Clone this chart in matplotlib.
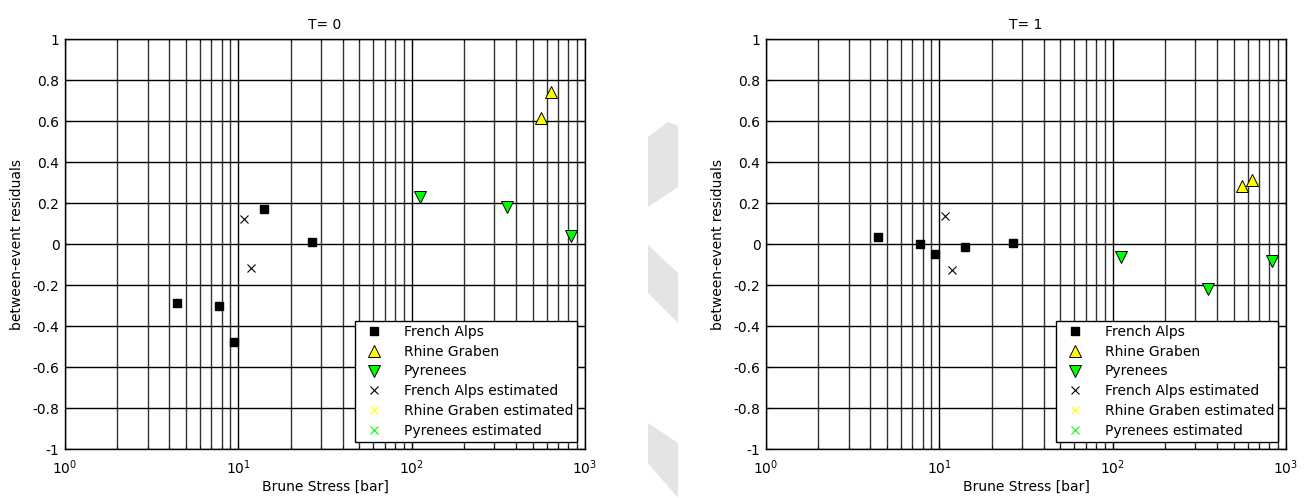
import numpy as np
import matplotlib
matplotlib.use('Agg')
import matplotlib.pyplot as plt
from matplotlib.patches import Polygon
from matplotlib.ticker import FuncFormatter

# Brune stress [bar] per event
stress_alps = [4.4, 7.7, 9.45, 14.0, 26.5]
stress_alps_est = [10.8, 11.9]
stress_rhine = [555, 637]
stress_pyr = [111, 354, 835]
stress_rhine_est = []
stress_pyr_est = []

# between-event residuals, T = 0
t0_alps = [-0.29, -0.30, -0.48, 0.17, 0.01]
t0_alps_est = [0.12, -0.115]
t0_rhine = [0.615, 0.74]
t0_pyr = [0.23, 0.18, 0.04]

# between-event residuals, T = 1
t1_alps = [0.035, 0.0, -0.047, -0.016, 0.003]
t1_alps_est = [0.137, -0.127]
t1_rhine = [0.283, 0.312]
t1_pyr = [-0.065, -0.221, -0.081]

titles = ['T= 0', 'T= 1']
panels = [(t0_alps, t0_alps_est, t0_rhine, t0_pyr),
          (t1_alps, t1_alps_est, t1_rhine, t1_pyr)]

plt.rcParams['font.family'] = ['DejaVu Sans']
plt.rcParams['font.size'] = 10

fig = plt.figure(figsize=(13.12, 4.98), dpi=100)

# light grey decoration between the two panels
W, H = 1312, 498
shapes = [
    [(648, 137), (668, 122), (678, 126), (678, 187), (648, 207)],
    [(648, 245), (678, 273), (678, 323), (648, 293)],
    [(648, 423), (678, 443), (678, 498), (648, 463)],
]
for pts in shapes:
    fig.patches.append(Polygon([(x / W, 1 - y / H) for x, y in pts], closed=True,
                               transform=fig.transFigure, facecolor='#e4e4e4',
                               edgecolor='none', zorder=0))

lefts = [65 / W, 766 / W]
yfmt = FuncFormatter(lambda v, p: '%g' % round(v, 2) if abs(v) > 1e-9 else '0')

for left, title, (alps, alps_est, rhine, pyr) in zip(lefts, titles, panels):
    ax = fig.add_axes([left, 49 / H, 520 / W, 410 / H])
    ax.set_xscale('log')
    ax.set_xlim(1, 1000)
    ax.set_ylim(-1, 1)
    ax.set_yticks(np.arange(-1, 1.01, 0.2))
    ax.yaxis.set_major_formatter(yfmt)

    ax.grid(True, which='major', color='black', linestyle='-', linewidth=1.0)
    ax.grid(True, which='minor', axis='x', color='#333333', linestyle='-', linewidth=1.0)
    ax.set_axisbelow(True)

    ax.plot(stress_alps, alps, 's', color='black', markersize=6,
            markeredgecolor='black', label='French Alps')
    ax.plot(stress_rhine, rhine, '^', color='#ffff00', markersize=9,
            markeredgecolor='black', markeredgewidth=0.7, label='Rhine Graben')
    ax.plot(stress_pyr, pyr, 'v', color='#00ff00', markersize=9,
            markeredgecolor='black', markeredgewidth=0.7, label='Pyrenees')
    ax.plot(stress_alps_est, alps_est, 'x', color='black', markersize=6,
            markeredgewidth=0.8, label='French Alps estimated')
    ax.plot(stress_rhine_est, [], 'x', color='#ffff00', markersize=6,
            markeredgewidth=0.8, label='Rhine Graben estimated')
    ax.plot(stress_pyr_est, [], 'x', color='#00ff00', markersize=6,
            markeredgewidth=0.8, label='Pyrenees estimated')

    ax.tick_params(which='both', direction='in', top=True, right=True)
    ax.tick_params(axis='y', pad=4)
    ax.tick_params(axis='x', pad=7)
    ax.tick_params(which='major', length=4)
    ax.tick_params(which='minor', length=2)
    for s in ax.spines.values():
        s.set_linewidth(1.0)

    ax.set_title(title, fontsize=10, pad=7)
    ax.set_xlabel('Brune Stress [bar]', labelpad=2)
    ax.set_ylabel('between-event residuals', labelpad=6)

    leg = ax.legend(loc='lower right', bbox_to_anchor=(0.985, 0.017), borderaxespad=0,
                    fancybox=False, framealpha=1, edgecolor='black', fontsize=10,
                    handlelength=2.2, handletextpad=1.0, labelspacing=0.42,
                    borderpad=0.3, numpoints=1)
    leg.get_frame().set_linewidth(1.0)

fig.savefig('out.png', dpi=100)
